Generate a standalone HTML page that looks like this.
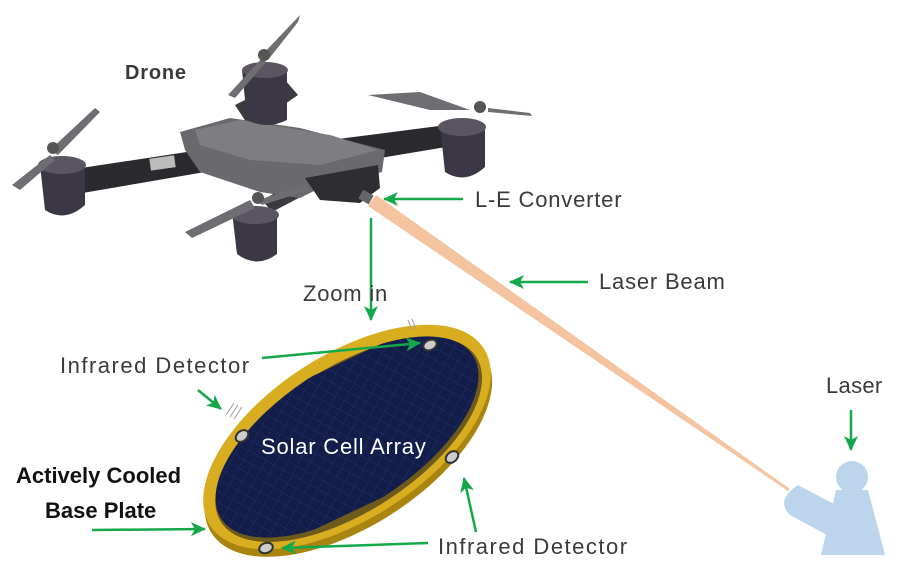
<!DOCTYPE html>
<html><head><meta charset="utf-8"><style>
html,body{margin:0;padding:0;background:#fff;overflow:hidden;width:899px;height:572px;}
svg{display:block;}
text{font-family:"Liberation Sans",sans-serif;}
</style></head><body>
<svg width="899" height="572" viewBox="0 0 899 572" xmlns="http://www.w3.org/2000/svg">
<defs>
<marker id="ah" markerWidth="16" markerHeight="14" refX="14" refY="7" orient="auto" markerUnits="userSpaceOnUse">
<path d="M0,0 L15,7 L0,14 L4,7 Z" fill="#14a84a"/>
</marker>
<pattern id="grid" width="10" height="10" patternUnits="userSpaceOnUse" patternTransform="rotate(-28)">
<rect width="10" height="10" fill="#131d4a"/>
<path d="M0,0 H10 M0,0 V10" stroke="#3a4a8a" stroke-width="0.8" stroke-dasharray="1,1"/>
</pattern>
<clipPath id="inner"><ellipse cx="0" cy="0" rx="150" ry="70"/></clipPath>
</defs>

<!-- laser beam -->
<polygon points="376,195 790,489 788,491 368,206" fill="#f4c3a0"/>

<!-- drone -->
<g>
<polygon points="55,172 200,150 205,172 65,196" fill="#2a2a2e"/>
<polygon points="330,140 470,122 476,142 338,165" fill="#2a2a2e"/>
<polygon points="235,105 285,80 298,95 250,128" fill="#3a3a40"/>
<polygon points="262,200 300,180 310,192 272,212" fill="#3a3a40"/>
<polygon points="180,132 230,118 300,128 385,150 382,172 320,188 300,198 260,192 200,172 185,150" fill="#6a6a6e"/>
<polygon points="195,130 240,120 330,135 378,150 320,165 250,160 200,145" fill="#7e7e82"/>
<polygon points="305,178 378,165 380,188 360,203 320,200" fill="#2e2e32"/>
<rect x="150" y="157" width="25" height="12" fill="#bbb" transform="rotate(-8 162 163)"/>
<g fill="#3c3744">
<path d="M40,165 h45 v40 q-20,18 -40,5 z"/>
<path d="M232,212 h45 v42 q-20,15 -40,0 z"/>
<path d="M242,70 h45 v50 q-20,10 -40,0 z"/>
<path d="M440,125 h45 v42 q-20,18 -40,5 z"/>
</g>
<ellipse cx="62" cy="165" rx="24" ry="9" fill="#5a5560"/>
<ellipse cx="255" cy="215" rx="24" ry="9" fill="#5a5560"/>
<ellipse cx="265" cy="70" rx="23" ry="8" fill="#5a5560"/>
<ellipse cx="462" cy="127" rx="24" ry="9" fill="#5a5560"/>
<g fill="#6e6e72">
<polygon points="50,150 95,108 100,112 58,155"/>
<polygon points="12,185 50,155 55,160 20,190"/>
<polygon points="228,95 262,58 266,62 235,98"/>
<polygon points="262,55 300,15 298,22 268,60"/>
<polygon points="185,232 250,200 255,208 192,238"/>
<polygon points="258,200 305,185 310,190 262,205"/>
<polygon points="368,95 420,92 470,110 430,110"/>
<polygon points="488,108 530,113 532,116 488,112"/>
</g>
<circle cx="53" cy="148" r="6" fill="#555"/>
<circle cx="258" cy="198" r="6" fill="#555"/>
<circle cx="264" cy="55" r="6" fill="#555"/>
<circle cx="480" cy="107" r="6" fill="#555"/>
<rect x="360" y="192" width="12" height="10" fill="#666" transform="rotate(30 366 197)"/>
</g>

<!-- disc -->
<g transform="translate(347,437) rotate(-33)">
<ellipse cx="-3" cy="7" rx="163" ry="82" fill="#a98510"/>
<ellipse cx="0" cy="0" rx="163" ry="82" fill="#d9ad20"/>
<ellipse cx="0" cy="3" rx="152" ry="72" fill="#6e5a1a"/>
<g clip-path="url(#inner)">
<polygon points="-150,-45 -70,-80 150,-50 150,45 70,80 -150,50" fill="url(#grid)"/>
</g>
</g>
<g fill="#ccc" stroke="#333" stroke-width="2">
<ellipse cx="430" cy="345" rx="7" ry="5" transform="rotate(-25 430 345)"/>
<ellipse cx="242" cy="436" rx="7" ry="5" transform="rotate(-40 242 436)"/>
<ellipse cx="452" cy="457" rx="7" ry="5" transform="rotate(-40 452 457)"/>
<ellipse cx="266" cy="548" rx="7" ry="5" transform="rotate(-20 266 548)"/>
</g>
<path d="M226,415 l8,-12 M230,417 l8,-12 M234,419 l8,-12 M412,330 l-4,-10 M416,329 l-4,-10" stroke="#999" stroke-width="1"/>

<!-- laser figure -->
<circle cx="852" cy="477" r="16" fill="#bcd5ec"/>
<polygon points="836,490 868,490 885,555 821,555" fill="#bcd5ec"/>
<path d="M798,485 L845,510 L836,540 L790,515 Q775,500 798,485 Z" fill="#bcd5ec"/>

<!-- arrows -->
<g stroke="#14a84a" stroke-width="2.5" fill="none" marker-end="url(#ah)">
<line x1="463" y1="199" x2="384" y2="199"/>
<line x1="588" y1="282" x2="510" y2="282"/>
<line x1="371" y1="218" x2="371" y2="320"/>
<line x1="851" y1="410" x2="851" y2="450"/>
<line x1="262" y1="358" x2="420" y2="343"/>
<line x1="198" y1="390" x2="221" y2="409"/>
<line x1="476" y1="532" x2="464" y2="478"/>
<line x1="428" y1="543" x2="282" y2="548"/>
<line x1="92" y1="530" x2="205" y2="529"/>
</g>

<!-- labels -->
<g font-size="22" fill="#3a3a3a" letter-spacing="0.8">
<text x="125" y="79" font-weight="bold" font-size="20">Drone</text>
<text x="475" y="207">L-E Converter</text>
<text x="599" y="289">Laser Beam</text>
<text x="303" y="301">Zoom in</text>
<text x="60" y="373" letter-spacing="1.5">Infrared Detector</text>
<text x="438" y="554" letter-spacing="1.5">Infrared Detector</text>
<text x="826" y="393" letter-spacing="0.3">Laser</text>
</g>
<text x="16" y="483" font-size="22" font-weight="bold" fill="#111">Actively Cooled</text>
<text x="45" y="518" font-size="22" font-weight="bold" fill="#111">Base Plate</text>
<text x="261" y="454" font-size="22" fill="#fff" letter-spacing="0.8">Solar Cell Array</text>
</svg>
</body></html>
